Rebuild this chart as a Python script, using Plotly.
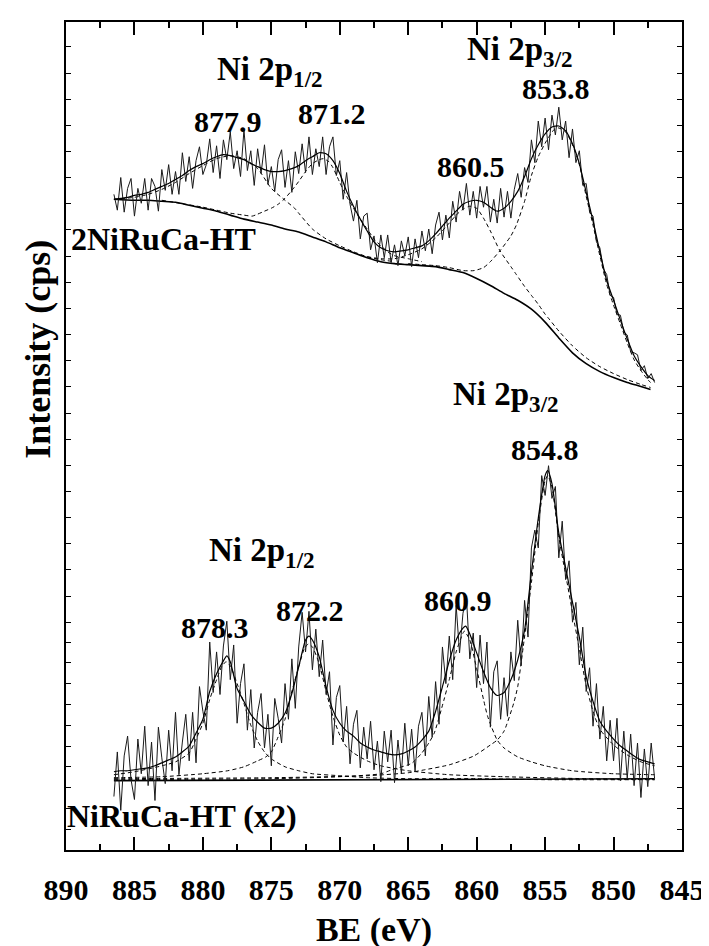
import plotly.graph_objects as go

# ---------------- data (binding energy in eV, intensity in arbitrary stacked units) ----------------
BE_RAW = [886.5, 886.25, 886.0, 885.75, 885.5, 885.25, 885.0, 884.75, 884.5, 884.25,
          884.0, 883.75, 883.5, 883.25, 883.0, 882.75, 882.5, 882.25, 882.0, 881.75,
          881.5, 881.25, 881.0, 880.75, 880.5, 880.25, 880.0, 879.75, 879.5, 879.25,
          879.0, 878.75, 878.5, 878.25, 878.0, 877.75, 877.5, 877.25, 877.0, 876.75,
          876.5, 876.25, 876.0, 875.75, 875.5, 875.25, 875.0, 874.75, 874.5, 874.25,
          874.0, 873.75, 873.5, 873.25, 873.0, 872.75, 872.5, 872.25, 872.0, 871.75,
          871.5, 871.25, 871.0, 870.75, 870.5, 870.25, 870.0, 869.75, 869.5, 869.25,
          869.0, 868.75, 868.5, 868.25, 868.0, 867.75, 867.5, 867.25, 867.0, 866.75,
          866.5, 866.25, 866.0, 865.75, 865.5, 865.25, 865.0, 864.75, 864.5, 864.25,
          864.0, 863.75, 863.5, 863.25, 863.0, 862.75, 862.5, 862.25, 862.0, 861.75,
          861.5, 861.25, 861.0, 860.75, 860.5, 860.25, 860.0, 859.75, 859.5, 859.25,
          859.0, 858.75, 858.5, 858.25, 858.0, 857.75, 857.5, 857.25, 857.0, 856.75,
          856.5, 856.25, 856.0, 855.75, 855.5, 855.25, 855.0, 854.75, 854.5, 854.25,
          854.0, 853.75, 853.5, 853.25, 853.0, 852.75, 852.5, 852.25, 852.0, 851.75,
          851.5, 851.25, 851.0, 850.75, 850.5, 850.25, 850.0, 849.75, 849.5, 849.25,
          849.0, 848.75, 848.5, 848.25, 848.0, 847.75, 847.5, 847.25, 847.0]

# 2NiRuCa-HT raw spectrum (upper)
UPPER_RAW = [662, 646, 679, 644, 668, 678, 640, 668, 653, 678,
             646, 678, 670, 645, 687, 666, 692, 662, 685, 662,
             704, 675, 700, 668, 696, 710, 682, 692, 718, 684,
             711, 678, 717, 697, 725, 688, 706, 680, 727, 686,
             706, 671, 708, 683, 712, 672, 690, 665, 697, 707,
             669, 696, 664, 705, 683, 713, 684, 720, 682, 708,
             690, 720, 682, 710, 720, 681, 696, 657, 684, 652,
             635, 656, 617, 640, 643, 606, 620, 593, 621, 598,
             621, 593, 611, 590, 615, 600, 619, 589, 617, 598,
             625, 605, 627, 602, 631, 644, 616, 641, 618, 655,
             634, 665, 646, 673, 641, 665, 638, 670, 649, 670,
             634, 657, 633, 668, 639, 665, 638, 667, 683, 659,
             689, 674, 717, 694, 736, 710, 739, 707, 742, 722,
             750, 717, 736, 699, 728, 694, 706, 671, 673, 644,
             640, 614, 608, 587, 581, 560, 558, 541, 540, 523,
             520, 503, 502, 500, 484, 489, 476, 481, 472]

# NiRuCa-HT (x2) raw spectrum (lower)
LOWER_RAW = [54, 99, 40, 95, 115, 71, 51, 112, 77, 125,
             65, 109, 50, 124, 93, 67, 121, 80, 139, 76,
             109, 137, 90, 139, 88, 165, 140, 121, 210, 159,
             200, 157, 206, 231, 172, 207, 128, 168, 188, 121,
             162, 103, 139, 158, 103, 137, 85, 153, 133, 108,
             168, 132, 193, 143, 205, 240, 200, 241, 182, 223,
             175, 212, 157, 180, 106, 154, 166, 109, 145, 87,
             127, 141, 83, 124, 92, 130, 81, 110, 69, 120,
             89, 121, 68, 111, 77, 128, 85, 122, 79, 125,
             139, 95, 155, 114, 170, 127, 205, 168, 216, 172,
             247, 199, 239, 256, 193, 219, 164, 217, 168, 210,
             124, 180, 191, 132, 174, 135, 200, 171, 232, 186,
             252, 215, 305, 323, 305, 378, 358, 388, 355, 367,
             295, 332, 273, 292, 230, 250, 187, 225, 160, 184,
             125, 168, 112, 145, 90, 131, 90, 133, 70, 120,
             72, 117, 65, 108, 53, 102, 64, 108, 72]

# upper: fitted envelope
UP_FIT_BE = [886.5, 886, 885.5, 885, 884.5, 884, 883.5, 883, 882.5, 882, 881.5, 881, 880.5, 880,
             879.5, 879, 878.5, 878, 877.5, 877, 876.5, 876, 875.5, 875, 874.5, 874, 873.5, 873,
             872.5, 872, 871.5, 871, 870.5, 870, 869.5, 869, 868.5, 868, 867.5, 867, 866.5, 866,
             865.5, 865, 864.5, 864, 863.5, 863, 862.5, 862, 861.5, 861, 860.5, 860, 859.5, 859,
             858.5, 858, 857.5, 857, 856.5, 856, 855.5, 855, 854.5, 854, 853.5, 853, 852.5, 852,
             851.5, 851, 850.5, 850, 849.5, 849, 848.5, 848, 847.5, 847]
UP_FIT = [657, 658, 659, 661, 662, 664, 667, 670, 673, 677, 681, 686, 690, 693,
          697, 700, 702, 701, 699, 697, 693, 690, 687, 685, 685, 686, 688, 691,
          696, 700, 704, 703, 696, 683, 665, 650, 637, 625, 614, 608, 605, 604,
          605, 606, 608, 610, 615, 622, 630, 638, 645, 652, 655, 656, 654, 649,
          645, 648, 655, 665, 680, 698, 712, 723, 730, 731, 726, 713, 693, 664,
          635, 604, 575, 555, 535, 516, 499, 488, 479, 474]

# upper: Shirley background
UP_BG_BE = [886.5, 885, 884, 883, 882, 881, 880, 879, 878, 877, 876, 875, 874, 873, 872, 871,
            870, 869, 868, 867, 866, 865, 864, 863, 862, 861, 860, 859, 858, 857, 856, 855,
            854, 853, 852, 851, 850, 849, 848, 847.3]
UP_BG = [657, 656, 656, 655, 654, 651, 648, 645, 641, 637, 634, 631, 627, 624, 619, 614,
         608, 603, 598, 594, 592, 591, 590, 589, 586, 583, 577, 570, 562, 555, 546, 533,
         517, 502, 491, 483, 477, 472, 468, 465]

# upper: component at 877.9
UP_A_BE = [886.5, 885, 884, 883, 882, 881, 880, 879, 878, 877, 876, 875, 874, 873.3, 873, 872,
           871, 870, 869, 868, 867, 866]
UP_A = [657, 659, 662, 667, 674, 683, 691, 698, 701, 698, 688, 668, 656, 648, 643, 627,
        617, 610, 604, 599, 596, 594]
# upper: component at 871.2
UP_B_BE = [883, 880, 879, 878, 877, 876.4, 876, 875.5, 875, 874.5, 874, 873.5, 873, 872.5, 872,
           871.5, 871.2, 870.8, 870.5, 870, 869.5, 869, 868.5, 868, 867.5, 867, 866.4, 866, 865, 864]
UP_B = [656, 649, 646, 643, 641, 640, 642, 645, 648, 652, 658, 666, 675, 685, 693,
        697, 698, 695, 689, 674, 660, 648, 637, 627, 617, 610, 603, 600, 597, 594]
# upper: component at 860.5
UP_C_BE = [868, 867, 866, 865, 864, 863, 862, 861.5, 861, 860.5, 860, 859.5, 859, 858.3, 857.5,
           857.1, 856.5, 856, 855.5, 855, 854.7, 854, 853, 852, 851, 850, 849, 848, 847.3]
UP_C = [599, 597, 597, 601, 607, 618, 633, 641, 647, 650, 648, 638, 625, 605, 589,
        581, 569, 560, 551, 541, 536, 524, 509, 497, 488, 481, 475, 470, 467]
# upper: component at 853.8
UP_D_BE = [865, 864, 863, 862, 861, 860.2, 859.5, 859, 858.3, 857.5, 857.1, 856.5, 856, 855.5,
           854.9, 854.3, 854, 853.5, 853, 852.5, 852, 851.5, 851, 850.5, 850, 849.5, 849, 848.5,
           848, 847.5, 847.3]
UP_D = [592, 591, 590, 588, 585, 585, 588, 594, 605, 620, 631, 655, 681, 700,
        716, 728, 729, 725, 712, 692, 660, 631, 600, 571, 550, 531, 512, 495,
        484, 475, 472]

# lower: fitted envelope
LO_FIT_BE = [886.5, 886, 885.5, 885, 884.5, 884, 883.5, 883, 882.5, 882, 881.5, 881, 880.5, 880,
             879.5, 879, 878.5, 878.25, 878, 877.5, 877, 876.5, 876, 875.5, 875, 874.5, 874, 873.5,
             873, 872.5, 872.25, 872, 871.5, 871, 870.5, 870, 869.5, 869, 868.5, 868, 867.5, 867,
             866.5, 866, 865.5, 865, 864.5, 864, 863.5, 863, 862.5, 862, 861.5, 861, 860.8, 860.5,
             860, 859.5, 859, 858.5, 858, 857.5, 857, 856.5, 856, 855.5, 855, 854.8, 854.5, 854,
             853.5, 853, 852.5, 852, 851.5, 851, 850.5, 850, 849.5, 849, 848.5, 848, 847.5, 847]
LO_FIT = [79, 80, 80, 81, 82, 83, 85, 88, 91, 94, 99, 105, 118, 132,
          160, 178, 191, 196, 190, 163, 150, 137, 129, 123, 123, 128, 138, 158,
          185, 212, 216, 212, 195, 165, 141, 128, 120, 115, 108, 104, 101, 99,
          97, 96, 97, 100, 104, 111, 120, 140, 165, 191, 212, 224, 226, 218,
          199, 180, 164, 156, 159, 172, 192, 222, 280, 335, 378, 383, 370, 320,
          285, 250, 215, 175, 150, 130, 120, 112, 105, 100, 95, 91, 89, 87]

# lower: background
LO_BG_BE = [886.5, 847]
LO_BG = [70, 72]

# lower: component at 878.3
LO_E_BE = [886.5, 885, 883, 882, 881, 880.5, 880, 879.5, 879, 878.6, 878.3, 878, 877.5, 877,
           876.5, 876, 875.5, 875, 874, 873, 872, 870, 868, 865, 860, 855, 847]
LO_E = [76, 79, 85, 89, 98, 112, 128, 152, 172, 186, 190, 186, 168, 148,
        126, 110, 99, 92, 84, 80, 77, 75, 73, 72, 72, 71, 71]
# lower: component at 872.2
LO_F_BE = [886.5, 883, 880, 878.2, 877, 876, 875.4, 875, 874.6, 874, 873.6, 873, 872.6, 872.3,
           872, 871.5, 871, 870.5, 870, 869.5, 869, 868, 867, 865, 862, 858, 852, 847]
LO_F = [73, 74, 77, 80, 84, 90, 94, 99, 111, 132, 155, 185, 203, 208,
        205, 188, 160, 135, 116, 104, 98, 90, 85, 80, 76, 74, 72, 71]
# lower: component at 860.9
LO_G_BE = [886.5, 875, 870, 867, 866.2, 865, 864.7, 864, 863.5, 863.1, 862.4, 862, 861.5, 861,
           860.9, 860.5, 860, 859.5, 859.2, 858.5, 858, 857, 856, 855, 853, 850, 847]
LO_G = [71, 72, 74, 77, 81, 86, 88, 98, 108, 118, 151, 172, 200, 219,
        221, 212, 183, 152, 135, 111, 103, 94, 89, 85, 80, 77, 76]
# lower: component at 854.8
LO_H_BE = [886.5, 875, 868, 865, 863.8, 862, 860.2, 859, 858.5, 858, 857.3, 857, 856.6, 856,
           855.5, 855, 854.8, 854.5, 854, 853.5, 853, 852.5, 852, 851.5, 851, 850, 849, 848, 847]
LO_H = [72, 73, 75, 78, 81, 86, 95, 106, 111, 120, 148, 165, 205, 270,
        330, 373, 378, 366, 316, 278, 240, 203, 166, 140, 122, 106, 96, 89, 85]

# ---------------- figure ----------------
fig = go.Figure()

raw_line = dict(color="#1a1a1a", width=1)
fit_line = dict(color="black", width=1.2)
bg_line = dict(color="black", width=1.6)
comp_line = dict(color="black", width=1, dash="4px,3px")


def add(x, y, line, spline=True):
    ln = dict(line)
    ln["shape"] = "spline" if spline else "linear"
    if spline:
        ln["smoothing"] = 0.6
    fig.add_trace(go.Scatter(x=x, y=y, mode="lines", line=ln, showlegend=False, hoverinfo="skip"))


# upper spectrum
for bx, by in [(UP_A_BE, UP_A), (UP_B_BE, UP_B), (UP_C_BE, UP_C), (UP_D_BE, UP_D)]:
    add(bx, by, comp_line)
add(UP_BG_BE, UP_BG, bg_line)
add(BE_RAW, UPPER_RAW, raw_line, spline=False)
add(UP_FIT_BE, UP_FIT, fit_line)

# lower spectrum
for bx, by in [(LO_E_BE, LO_E), (LO_F_BE, LO_F), (LO_G_BE, LO_G), (LO_H_BE, LO_H)]:
    add(bx, by, comp_line)
add(LO_BG_BE, LO_BG, bg_line, spline=False)
add(BE_RAW, LOWER_RAW, raw_line, spline=False)
add(LO_FIT_BE, LO_FIT, fit_line)

FONT = "Liberation Serif, Times New Roman, serif"

labels = [
    ("Ni 2p<sub>1/2</sub>", 875.07, 786, 33),
    ("877.9", 878.2, 736, 30),
    ("871.2", 870.55, 744, 30),
    ("Ni 2p<sub>3/2</sub>", 856.83, 806, 33),
    ("853.8", 854.2, 769, 30),
    ("860.5", 860.4, 690, 30),
    ("2NiRuCa-HT", 882.9, 617, 32),
    ("Ni 2p<sub>3/2</sub>", 857.84, 458, 33),
    ("854.8", 855.0, 404, 30),
    ("Ni 2p<sub>1/2</sub>", 875.71, 300, 33),
    ("860.9", 861.4, 252, 30),
    ("872.2", 872.2, 242, 30),
    ("878.3", 879.1, 225, 30),
    ("NiRuCa-HT (x2)", 881.5, 34, 32),
]
for txt, x, y, s in labels:
    fig.add_annotation(x=x, y=y, xref="x", yref="y", text="<b>" + txt + "</b>", showarrow=False,
                       xanchor="center", yanchor="middle", font=dict(family=FONT, size=s, color="black"))

fig.add_annotation(x=-0.046, y=0.605, xref="paper", yref="paper", text="<b>Intensity (cps)</b>",
                   textangle=-90, showarrow=False, xanchor="center", yanchor="middle",
                   font=dict(family=FONT, size=36, color="black"))

upper_ticks = [230 + 26.4 * k for k in range(23)]
lower_ticks = [21 + 21 * k for k in range(10)]

fig.update_layout(
    width=709, height=946,
    margin=dict(l=58, r=24, t=12, b=98),
    paper_bgcolor="white", plot_bgcolor="white",
    showlegend=False,
    font=dict(family=FONT, color="black"),
)
fig.update_xaxes(
    range=[890, 845], tick0=845, dtick=5,
    ticks="inside", ticklen=13, tickwidth=1.5, tickcolor="black",
    minor=dict(dtick=2.5, ticks="inside", ticklen=6, tickwidth=1.5, tickcolor="black"),
    showline=True, linewidth=2, linecolor="black", mirror="allticks",
    showgrid=False, zeroline=False,
    tickfont=dict(family=FONT, size=30, color="black", weight="bold"),
    ticklabelstandoff=12,
    title=dict(text="<b>BE (eV)</b>", font=dict(family=FONT, size=34, color="black"), standoff=12),
)
fig.update_yaxes(
    range=[0, 836], tickvals=lower_ticks + upper_ticks,
    ticks="inside", ticklen=5, tickwidth=1.2, tickcolor="black",
    showticklabels=False,
    showline=True, linewidth=2, linecolor="black", mirror="allticks",
    showgrid=False, zeroline=False,
)

fig.write_html("out.html")
